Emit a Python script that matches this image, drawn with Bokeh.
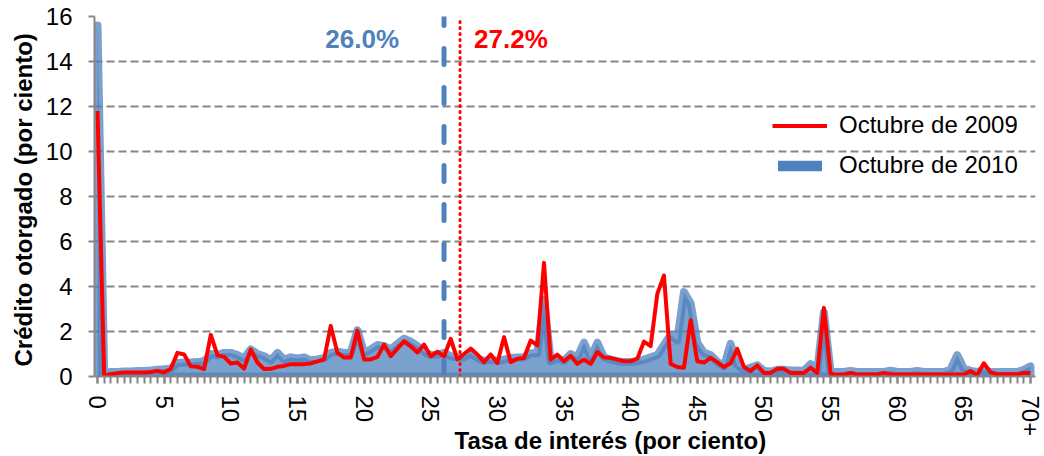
from bokeh.plotting import figure
from bokeh.models import (Range1d, FixedTicker, Legend, LegendItem, Label, Title)
from bokeh.embed import file_html
from bokeh.resources import INLINE

# ---- data ----
tasa = [i * 0.5 for i in range(141)]  # categories: 0, 0.5, ..., 70 (70 = "70+")

oct_2009 = [
    11.8, 0.05, 0.1, 0.15, 0.18, 0.18, 0.18, 0.18, 0.2, 0.25,
    0.18, 0.34, 1.05, 0.98, 0.45, 0.43, 0.33, 1.85, 0.95, 0.87,
    0.58, 0.62, 0.35, 1.2, 0.62, 0.33, 0.34, 0.43, 0.47, 0.55,
    0.55, 0.55, 0.58, 0.67, 0.76, 2.25, 1.05, 0.84, 0.84, 2.04,
    0.76, 0.76, 0.87, 1.42, 0.9, 1.24, 1.56, 1.34, 1.07, 1.42,
    0.9, 1.1, 0.9, 1.67, 0.76, 1.0, 1.24, 0.98, 0.64, 0.98,
    0.6, 1.75, 0.64, 0.79, 0.82, 1.6, 1.38, 5.05, 0.75, 0.97,
    0.68, 0.92, 0.56, 0.75, 0.56, 1.08, 0.85, 0.82, 0.75, 0.68,
    0.68, 0.79, 1.55, 1.35, 3.67, 4.49, 0.56, 0.42, 0.39, 2.5,
    0.68, 0.62, 0.83, 0.64, 0.42, 0.59, 1.23, 0.42, 0.24, 0.49,
    0.16, 0.16, 0.34, 0.34, 0.16, 0.16, 0.16, 0.39, 0.16, 3.05,
    0.12, 0.07, 0.09, 0.16, 0.09, 0.09, 0.09, 0.09, 0.16, 0.09,
    0.09, 0.09, 0.09, 0.09, 0.09, 0.09, 0.09, 0.09, 0.09, 0.09,
    0.09, 0.24, 0.07, 0.59, 0.19, 0.1, 0.1, 0.1, 0.1, 0.16,
    0.16,
]

oct_2010 = [
    15.6, 0.15, 0.2, 0.2, 0.22, 0.22, 0.24, 0.25, 0.27, 0.3,
    0.32, 0.35, 0.6, 0.62, 0.62, 0.64, 0.68, 1.0, 0.95, 1.05,
    1.05, 0.95, 0.8, 1.2, 1.0, 0.9, 0.72, 1.05, 0.75, 0.85,
    0.8, 0.85, 0.72, 0.76, 0.82, 1.05, 1.1, 1.05, 1.05, 2.05,
    1.05, 1.2, 1.4, 1.35, 1.2, 1.45, 1.68, 1.55, 1.35, 1.1,
    0.95, 0.97, 1.05, 0.9, 0.85, 0.85, 1.03, 0.82, 0.68, 0.75,
    0.68, 0.75, 0.82, 0.85, 0.85, 1.03, 1.03, 3.4, 0.68, 0.8,
    0.7, 1.0, 0.85, 1.5, 0.82, 1.5, 0.85, 0.75, 0.68, 0.64,
    0.64, 0.68, 0.75, 0.85, 0.95, 1.4, 1.85, 1.6, 3.75, 3.25,
    1.5, 1.05, 0.95, 0.65, 0.45, 1.45, 0.5, 0.3, 0.4, 0.5,
    0.25, 0.22, 0.3, 0.3, 0.27, 0.27, 0.25, 0.55, 0.25, 2.85,
    0.2, 0.2, 0.2, 0.25, 0.2, 0.2, 0.2, 0.2, 0.2, 0.26,
    0.2, 0.2, 0.2, 0.25, 0.2, 0.2, 0.2, 0.2, 0.3, 0.95,
    0.35, 0.25, 0.2, 0.3, 0.2, 0.2, 0.2, 0.2, 0.2, 0.3,
    0.45,
]

promedio_2010 = 26.0
promedio_2009 = 27.2

x_ticks = [0, 5, 10, 15, 20, 25, 30, 35, 40, 45, 50, 55, 60, 65, 70]
x_tick_labels = {70: "70+"}
y_ticks = [0, 2, 4, 6, 8, 10, 12, 14, 16]

# ---- styles ----
FONT = "Liberation Sans"
BLUE = "#4F81BD"
RED = "#FF0000"
GRAY = "#868686"

p = figure(width=1044, height=456, x_range=Range1d(-0.225, 70.375), y_range=Range1d(0, 16),
           output_backend="svg", toolbar_location=None,
           min_border_left=94, min_border_right=9, min_border_top=16, min_border_bottom=80)
p.outline_line_color = None
p.background_fill_color = "white"

# blue area (2010)
px = [tasa[0]] + tasa + [tasa[-1]]
py = [0] + oct_2010 + [0]
p.patch(px, py, fill_color=BLUE, fill_alpha=0.75, line_color=BLUE, line_alpha=0.75,
        line_width=8, line_join="round")

# legend proxy for the 2010 area (zero-height, solid colour swatch)
blue_leg = p.varea(x=tasa, y1=oct_2010, y2=oct_2010, fill_color=BLUE, fill_alpha=1.0)

# red line (2009)
red_r = p.line(tasa, oct_2009, line_color=RED, line_width=4, line_join="round")

# average lines
p.segment(x0=[promedio_2010], y0=[0], x1=[promedio_2010], y1=[16], line_color=BLUE,
          line_width=5, line_dash="16 23", line_cap="round")
p.segment(x0=[promedio_2009], y0=[0], x1=[promedio_2009], y1=[16], line_color=RED,
          line_width=3, line_dash="1 5", line_cap="round")

p.add_layout(Label(x=promedio_2010, y=15.0, x_offset=-45, text=f"{promedio_2010:.1f}%",
                   text_align="right", text_baseline="middle", text_color=BLUE,
                   text_font=FONT, text_font_size="26px", text_font_style="bold"))
p.add_layout(Label(x=promedio_2009, y=15.0, x_offset=14, text=f"{promedio_2009:.1f}%",
                   text_align="left", text_baseline="middle", text_color=RED,
                   text_font=FONT, text_font_size="26px", text_font_style="bold"))

# legend
legend = Legend(items=[LegendItem(label="Octubre de 2009", renderers=[red_r]),
                       LegendItem(label="Octubre de 2010", renderers=[blue_leg])],
                location=(678, 197), orientation="vertical",
                label_text_font=FONT, label_text_font_size="24px", label_text_color="black",
                glyph_width=55, glyph_height=13, label_standoff=12, spacing=12,
                padding=0, margin=0, background_fill_alpha=0, border_line_color=None)
p.add_layout(legend)

# grid
p.xgrid.visible = False
p.ygrid.ticker = FixedTicker(ticks=y_ticks)
p.ygrid.grid_line_color = GRAY
p.ygrid.grid_line_width = 2
p.ygrid.grid_line_dash = "8 4"

# axes
for ax in (p.xaxis[0], p.yaxis[0]):
    ax.axis_line_color = GRAY
    ax.axis_line_width = 2
    ax.major_tick_line_color = GRAY
    ax.major_tick_line_width = 2
    ax.major_tick_in = 0
    ax.major_label_text_font = FONT
    ax.major_label_text_font_size = "24px"
    ax.major_label_text_color = "black"

p.xaxis.ticker = FixedTicker(ticks=x_ticks, minor_ticks=tasa)
p.xaxis.major_label_overrides = x_tick_labels
p.xaxis.major_label_orientation = "vertical"
p.xaxis.major_tick_out = 7
p.xaxis.minor_tick_out = 7
p.xaxis.minor_tick_in = 0
p.xaxis.minor_tick_line_color = GRAY
p.xaxis.minor_tick_line_width = 2
p.xaxis.major_label_standoff = 12

p.yaxis.ticker = FixedTicker(ticks=y_ticks)
p.yaxis.major_tick_out = 6
p.yaxis.minor_tick_line_color = None
p.yaxis.major_label_standoff = 16
p.yaxis.axis_label = "Crédito otorgado  (por ciento)"
p.yaxis.axis_label_text_font = FONT
p.yaxis.axis_label_text_font_size = "24px"
p.yaxis.axis_label_text_font_style = "bold"
p.yaxis.axis_label_text_color = "black"
p.yaxis.axis_label_standoff = 6

x_title = Title(text="Tasa de interés  (por ciento)", align="left", offset=360,
                vertical_align="top", standoff=-26, text_font=FONT, text_font_size="24px",
                text_font_style="bold", text_color="black")
p.add_layout(x_title, "below")

open("out.html", "w").write(file_html(p, INLINE))
